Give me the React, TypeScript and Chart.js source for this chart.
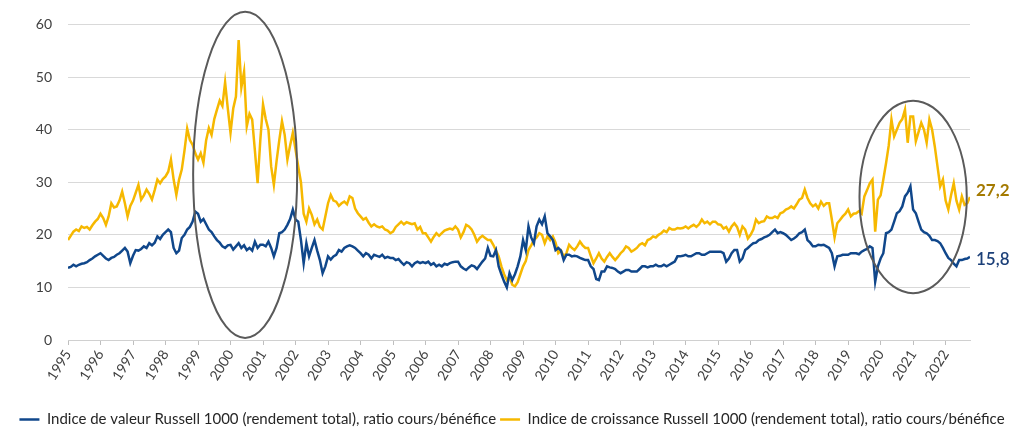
import React, { useEffect, useRef } from "react";
import { Chart, registerables } from "chart.js";

Chart.register(...registerables);

// ---- Data (monthly, starting January 1995, ending October 2022) ----
const START_YEAR = 1995;
const MONTHS_PER_YEAR = 12;

const yearTicks: number[] = [
  1995, 1996, 1997, 1998, 1999, 2000, 2001, 2002, 2003, 2004, 2005, 2006, 2007, 2008,
  2009, 2010, 2011, 2012, 2013, 2014, 2015, 2016, 2017, 2018, 2019, 2020, 2021, 2022,
];
const yTickValues: number[] = [0, 10, 20, 30, 40, 50, 60];

const seriesLabels: string[] = [
  "Indice de valeur Russell 1000 (rendement total), ratio cours/bénéfice",
  "Indice de croissance Russell 1000 (rendement total), ratio cours/bénéfice",
];

// Russell 1000 Value P/E
const valuePE: number[] = [
  13.7, 13.9, 14.3, 14.0, 14.3, 14.5, 14.6, 14.8, 15.2, 15.5, 15.9, 16.2, // 1995
  16.5, 16.0, 15.5, 15.2, 15.6, 15.8, 16.2, 16.5, 17.0, 17.5, 16.8, 14.6, // 1996
  16.0, 17.1, 17.0, 17.3, 17.8, 17.5, 18.4, 18.0, 18.5, 19.7, 19.2, 20.0, // 1997
  20.5, 21.0, 20.5, 17.5, 16.5, 17.0, 19.4, 20.0, 21.0, 21.5, 22.5, 24.4, // 1998
  24.0, 22.5, 23.0, 22.0, 21.0, 20.5, 19.7, 19.0, 18.5, 17.8, 17.5, 18.0, // 1999
  18.1, 17.2, 17.8, 18.4, 17.5, 18.0, 17.1, 17.5, 17.0, 18.7, 17.5, 18.1, // 2000
  18.1, 17.8, 18.7, 17.5, 15.9, 17.5, 20.3, 20.5, 21.0, 21.9, 23.0, 24.8, // 2001
  22.9, 22.5, 19.0, 14.6, 18.4, 15.9, 17.5, 19.0, 17.0, 15.2, 12.7, 14.0, // 2002
  15.9, 15.3, 15.9, 16.2, 17.1, 16.8, 17.5, 17.8, 18.0, 17.8, 17.5, 17.0, // 2003
  16.5, 15.9, 16.5, 16.2, 15.5, 16.2, 16.0, 15.8, 16.2, 15.6, 15.8, 15.6, // 2004
  15.6, 15.2, 15.4, 14.8, 14.3, 14.8, 14.6, 14.0, 14.6, 14.9, 14.6, 14.8, // 2005
  14.6, 14.9, 14.3, 14.6, 14.0, 14.3, 14.0, 14.5, 14.3, 14.6, 14.8, 14.9, // 2006
  14.9, 14.0, 13.6, 13.3, 13.8, 14.2, 14.0, 13.5, 14.2, 14.9, 15.5, 17.5, // 2007
  16.0, 15.9, 17.1, 14.0, 12.5, 11.1, 10.0, 12.7, 11.4, 12.5, 14.0, 15.9, // 2008
  19.0, 17.1, 21.6, 19.5, 18.4, 21.6, 22.9, 22.0, 23.5, 20.3, 19.7, 19.0, // 2009
  17.1, 17.5, 17.0, 15.2, 16.2, 16.2, 15.9, 16.0, 15.9, 15.6, 15.4, 15.2, // 2010
  15.2, 14.0, 13.5, 11.6, 11.4, 13.0, 13.0, 14.0, 13.8, 13.7, 13.5, 13.0, // 2011
  12.7, 13.0, 13.3, 13.3, 13.0, 13.0, 13.0, 13.5, 14.0, 14.0, 13.8, 14.0, // 2012
  14.0, 14.3, 14.0, 14.0, 14.3, 14.0, 14.3, 14.6, 14.9, 15.9, 15.9, 16.0, // 2013
  16.2, 15.9, 15.9, 16.2, 16.5, 16.5, 16.2, 16.2, 16.5, 16.8, 16.8, 16.8, // 2014
  16.8, 16.8, 16.5, 14.9, 15.5, 16.5, 17.1, 17.1, 14.9, 15.5, 17.1, 17.5, // 2015
  18.0, 18.4, 18.5, 19.0, 19.2, 19.5, 19.7, 20.0, 20.5, 21.0, 20.3, 20.5, // 2016
  20.3, 20.0, 19.5, 19.0, 19.3, 19.7, 20.3, 20.5, 21.0, 19.0, 18.5, 17.8, // 2017
  17.8, 18.1, 18.0, 18.1, 17.8, 17.5, 16.5, 14.0, 15.9, 16.0, 16.2, 16.2, // 2018
  16.2, 16.5, 16.5, 16.5, 16.3, 16.8, 17.1, 17.3, 17.8, 17.5, 11.1, 14.0, // 2019
  15.5, 16.5, 20.3, 20.5, 21.0, 22.5, 24.1, 24.5, 25.4, 27.3, 28.0, 29.2, // 2020
  24.8, 24.1, 22.5, 21.0, 20.5, 20.3, 19.8, 19.0, 19.0, 18.8, 18.4, 17.5, // 2021
  16.5, 15.6, 15.2, 14.5, 14.0, 15.2, 15.2, 15.4, 15.5, 15.8, // 2022
];

// Russell 1000 Growth P/E
const growthPE: number[] = [
  19.0, 19.8, 20.6, 21.0, 20.7, 21.6, 21.3, 21.5, 21.0, 21.8, 22.5, 23.0, // 1995
  24.0, 23.2, 21.9, 23.5, 26.0, 25.2, 25.4, 26.5, 28.2, 26.0, 23.5, 25.5, // 1996
  26.5, 28.0, 29.5, 26.7, 27.5, 28.6, 27.8, 26.7, 28.5, 30.5, 29.8, 30.6, // 1997
  31.1, 32.0, 34.3, 30.5, 27.6, 30.5, 32.4, 36.0, 40.2, 38.0, 37.1, 35.5, // 1998
  34.3, 35.5, 33.7, 38.0, 40.3, 39.0, 42.0, 43.8, 45.5, 44.5, 49.0, 44.0, // 1999
  39.4, 44.0, 46.3, 57.0, 48.0, 51.0, 40.6, 43.0, 41.9, 36.0, 29.8, 38.0, // 2000
  44.8, 42.0, 40.0, 33.0, 29.5, 34.0, 38.0, 41.6, 39.0, 34.3, 37.0, 39.4, // 2001
  36.2, 33.0, 30.0, 24.0, 22.5, 25.0, 23.8, 22.0, 22.9, 21.5, 21.0, 23.5, // 2002
  26.0, 27.6, 26.5, 26.3, 25.5, 26.0, 26.3, 25.8, 27.3, 27.0, 25.0, 24.1, // 2003
  23.5, 22.9, 23.2, 22.3, 21.6, 22.0, 21.6, 21.4, 21.6, 21.0, 20.8, 20.3, // 2004
  20.6, 21.5, 22.0, 22.5, 22.0, 22.4, 22.2, 22.0, 22.2, 21.0, 21.5, 20.3, // 2005
  20.3, 19.5, 18.7, 19.6, 20.3, 19.8, 20.3, 20.8, 21.0, 21.2, 21.0, 21.6, // 2006
  21.0, 19.5, 20.5, 21.9, 21.6, 21.0, 20.0, 18.7, 19.4, 19.8, 19.4, 19.0, // 2007
  19.0, 18.1, 17.0, 15.9, 14.0, 12.5, 11.4, 12.0, 10.5, 10.2, 11.0, 12.5, // 2008
  14.0, 15.0, 17.1, 18.0, 19.0, 19.5, 20.3, 20.0, 18.4, 19.7, 19.0, 19.7, // 2009
  18.5, 16.5, 17.0, 15.9, 16.5, 18.1, 17.5, 17.1, 17.8, 18.7, 18.0, 17.5, // 2010
  17.5, 16.0, 14.6, 15.5, 16.5, 15.5, 14.9, 15.8, 16.5, 15.8, 15.2, 15.8, // 2011
  16.5, 17.0, 17.8, 17.5, 16.8, 17.1, 17.5, 18.1, 18.4, 18.0, 19.0, 19.2, // 2012
  19.7, 19.5, 20.0, 20.3, 20.8, 20.5, 21.3, 21.0, 21.0, 21.3, 21.2, 21.3, // 2013
  21.6, 21.2, 21.6, 21.9, 21.5, 22.0, 22.9, 22.2, 22.5, 22.0, 22.5, 22.5, // 2014
  22.0, 21.9, 21.2, 21.5, 20.6, 21.6, 22.2, 21.5, 20.0, 21.6, 21.0, 19.3, // 2015
  20.0, 21.0, 22.9, 22.2, 22.5, 22.6, 23.5, 23.2, 23.2, 23.5, 23.2, 24.1, // 2016
  24.3, 24.8, 25.0, 25.4, 25.0, 25.8, 26.7, 27.0, 28.6, 27.0, 26.0, 25.4, // 2017
  25.8, 25.0, 26.3, 25.5, 26.0, 26.0, 22.9, 19.5, 22.2, 22.8, 23.5, 24.0, // 2018
  24.8, 23.5, 24.0, 24.1, 24.5, 24.0, 27.3, 28.5, 29.8, 30.5, 20.6, 26.7, // 2019
  27.5, 30.5, 33.6, 37.0, 41.9, 38.7, 40.0, 41.3, 42.0, 43.8, 37.5, 42.5, // 2020
  42.5, 37.8, 39.5, 41.3, 40.0, 37.5, 41.9, 40.0, 36.8, 33.0, 29.2, 30.5, // 2021
  26.5, 24.8, 27.5, 29.8, 26.5, 24.8, 27.3, 25.7, 26.0, 27.2, // 2022
];

const endLabels: string[] = ["15,8", "27,2"];

// Highlight ellipses (data units: years / P/E)
const highlightCenters: number[][] = [
  [2000.45, 31.4],
  [2021.0, 27.2],
];
const highlightRadii: number[][] = [
  [1.6, 31.0],
  [1.65, 18.3],
];

const VALUE_COLOR = "#10478B";
const GROWTH_COLOR = "#F6B800";
const END_LABEL_COLORS = ["#1B3F78", "#A47A00"];
const FONT = "Lato, 'Open Sans', sans-serif";

const toPoints = (arr: number[]) =>
  arr.map((v, i) => ({ x: START_YEAR + i / MONTHS_PER_YEAR, y: v }));

const overlayPlugin = {
  id: "overlay",
  afterDatasetsDraw(chart: any) {
    const { ctx, scales } = chart;
    const xs = scales.x;
    const ys = scales.y;
    ctx.save();
    ctx.strokeStyle = "#5A5A5A";
    ctx.lineWidth = 2;
    highlightCenters.forEach((c, i) => {
      const cx = xs.getPixelForValue(c[0]);
      const cy = ys.getPixelForValue(c[1]);
      const rx = Math.abs(xs.getPixelForValue(c[0] + highlightRadii[i][0]) - cx);
      const ry = Math.abs(ys.getPixelForValue(c[1] + highlightRadii[i][1]) - cy);
      ctx.beginPath();
      ctx.ellipse(cx, cy, rx, ry, 0, 0, Math.PI * 2);
      ctx.stroke();
    });
    chart.data.datasets.forEach((_ds: any, i: number) => {
      const meta = chart.getDatasetMeta(i);
      const last = meta.data[meta.data.length - 1];
      if (!last) return;
      ctx.fillStyle = END_LABEL_COLORS[i];
      ctx.font = `${i === 1 ? "bold" : "600"} 17px ${FONT}`;
      ctx.textAlign = "left";
      ctx.textBaseline = "middle";
      ctx.fillText(endLabels[i], last.x + 6, last.y + (i === 1 ? -6 : 3));
    });
    ctx.restore();
  },
};

export default function App() {
  const canvasRef = useRef<HTMLCanvasElement | null>(null);

  useEffect(() => {
    document.body.style.margin = "0";
    const canvas = canvasRef.current;
    if (!canvas) return;
    const chart = new Chart(canvas, {
      type: "line",
      data: {
        datasets: [
          {
            label: seriesLabels[0],
            data: toPoints(valuePE),
            borderColor: VALUE_COLOR,
            backgroundColor: VALUE_COLOR,
            borderWidth: 2.5,
            pointRadius: 0,
            tension: 0,
          },
          {
            label: seriesLabels[1],
            data: toPoints(growthPE),
            borderColor: GROWTH_COLOR,
            backgroundColor: GROWTH_COLOR,
            borderWidth: 2.5,
            pointRadius: 0,
            tension: 0,
          },
        ],
      },
      options: {
        animation: false,
        responsive: true,
        maintainAspectRatio: false,
        layout: { padding: { left: 0, right: 0, top: 20, bottom: 3 } },
        plugins: {
          tooltip: { enabled: false },
          legend: {
            position: "bottom",
            labels: {
              usePointStyle: true,
              pointStyle: "line",
              pointStyleWidth: 20,
              color: "#262626",
              font: { family: FONT, size: 15 },
              padding: 4,
            },
          },
        },
        scales: {
          x: {
            type: "linear",
            min: START_YEAR,
            max: START_YEAR + (valuePE.length - 1) / MONTHS_PER_YEAR,
            afterBuildTicks: (axis: any) => {
              axis.ticks = yearTicks.map((v) => ({ value: v }));
            },
            afterFit: (axis: any) => {
              axis.height = 68;
            },
            ticks: {
              autoSkip: false,
              minRotation: 58,
              maxRotation: 58,
              color: "#404040",
              font: { family: FONT, size: 14 },
              padding: 2,
              callback: (v: any) => String(v),
            },
            grid: {
              drawOnChartArea: false,
              drawTicks: true,
              tickLength: 5,
              color: "#BFBFBF",
            },
            border: { display: true, color: "#D0D0D0", width: 1 },
          },
          y: {
            min: 0,
            max: 60,
            afterBuildTicks: (axis: any) => {
              axis.ticks = yTickValues.map((v) => ({ value: v }));
            },
            afterFit: (axis: any) => {
              axis.width = 68;
            },
            ticks: {
              color: "#404040",
              font: { family: FONT, size: 14 },
              padding: 16,
            },
            grid: { color: "#D9D9D9", drawTicks: false, lineWidth: 1 },
            border: { display: false },
          },
          yRight: {
            position: "right",
            min: 0,
            max: 60,
            afterFit: (axis: any) => {
              axis.width = 54;
            },
            ticks: { display: false },
            grid: { display: false },
            border: { display: false },
          },
        },
      },
      plugins: [overlayPlugin],
    });
    return () => chart.destroy();
  }, []);

  return (
    <div style={{ position: "relative", width: "1024px", height: "440px" }}>
      <canvas ref={canvasRef} />
    </div>
  );
}
